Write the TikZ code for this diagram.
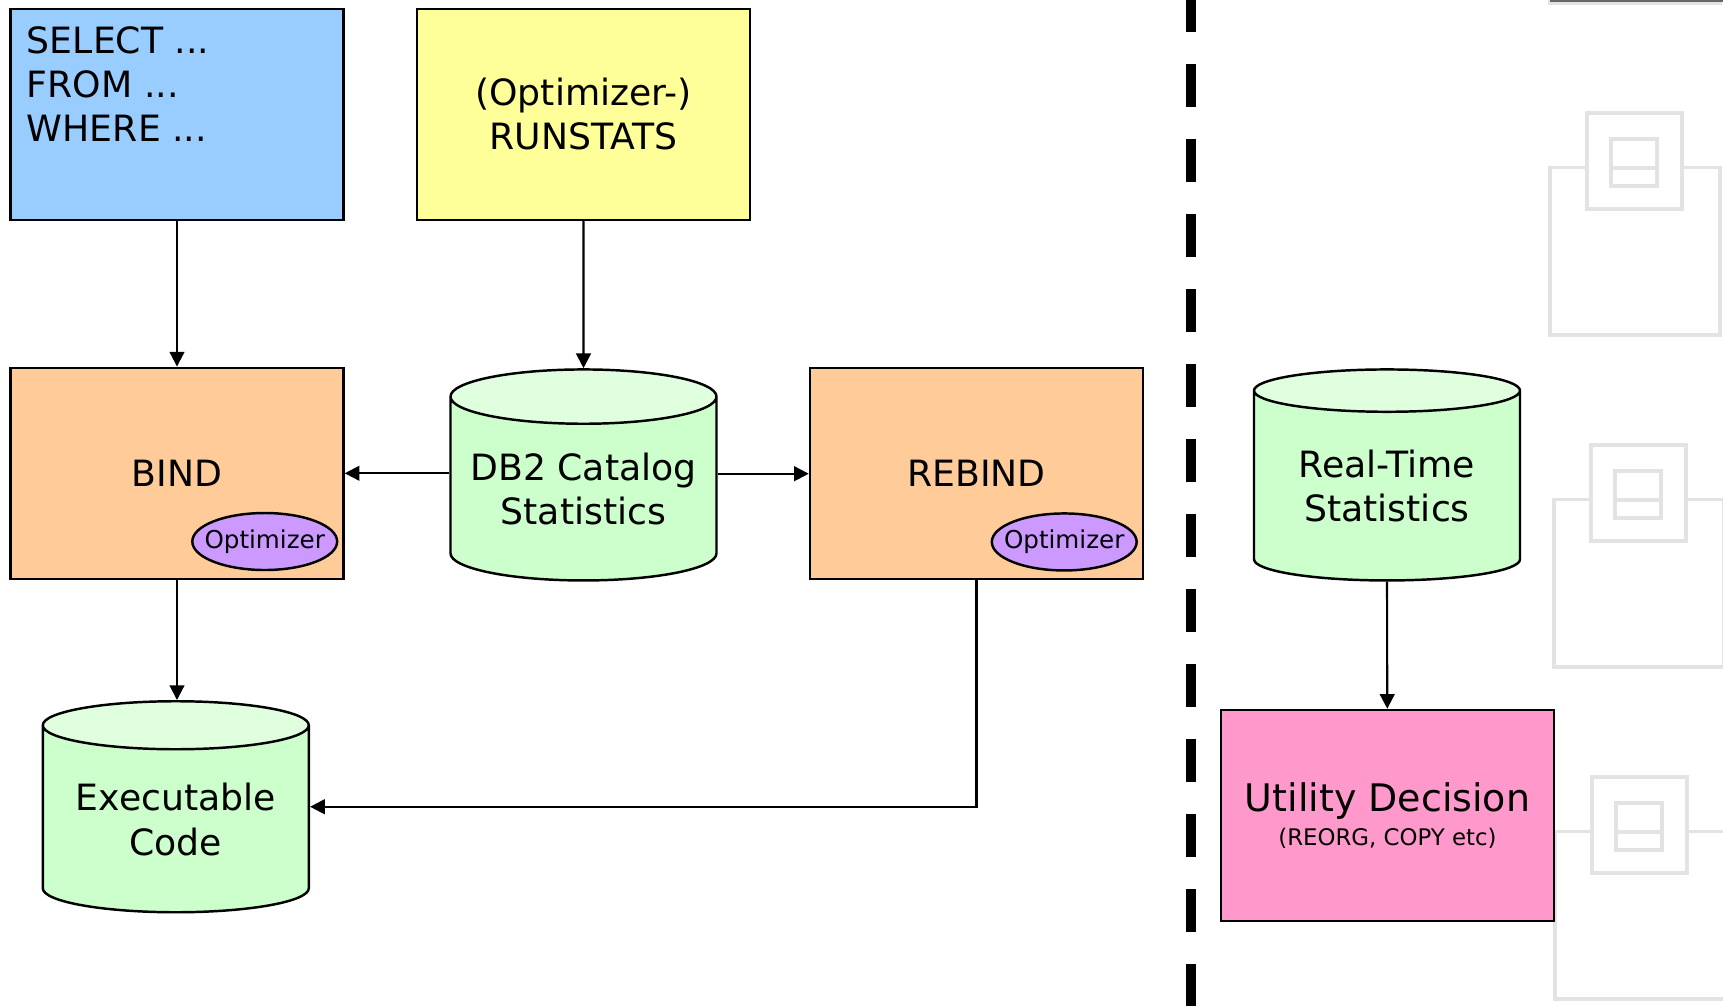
\documentclass[tikz,border=0pt]{standalone}
\usepackage{fontspec}
\setmainfont{DejaVu Sans}
\usetikzlibrary{arrows.meta, positioning, shapes.geometric}

\definecolor{sqlblue}{HTML}{99CCFF}
\definecolor{statyellow}{HTML}{FFFF99}
\definecolor{bindorange}{HTML}{FFCC99}
\definecolor{optpurple}{HTML}{CC99FF}
\definecolor{storegreen}{HTML}{CCFFCC}
\definecolor{storetop}{HTML}{DFFFDF}
\definecolor{utilpink}{HTML}{FF99CC}

\begin{document}
\begin{tikzpicture}
    [
        box/.style={rectangle, draw=black, line width=0.7pt, minimum width=3.33cm, minimum height=2.11cm, inner sep=0pt, align=center, font=\fontsize{10.3}{12.6}\selectfont},
        store/.style={cylinder, shape border rotate=90, aspect=0.24, draw=black, line width=0.7pt, cylinder uses custom fill, cylinder body fill=storegreen, cylinder end fill=storetop, minimum width=2.66cm, minimum height=2.11cm, inner sep=0pt, align=center, anchor=north, font=\fontsize{10.3}{12.6}\selectfont},
        optimizer/.style={ellipse, draw=black, line width=0.7pt, fill=optpurple, minimum width=1.43cm, minimum height=0.57cm, inner xsep=-0.09cm, inner ysep=0pt, font=\fontsize{7}{8.4}\selectfont},
        flow/.style={-{Triangle[length=4.2pt, width=4.2pt]}, line width=0.6pt},
        divider/.style={line width=3.1pt, dash pattern=on 0.43cm off 0.32cm, dash phase=0.11cm},
        watermark/.style={draw=black!11, line width=1pt},
    ]
    \useasboundingbox (0,0) rectangle (17.23,-10.06);

    % faint icons on the right edge
    \begin{scope}
        \clip (0,0) rectangle (17.23,-10.06);
        \foreach \k/\dx in {-1/0, 0/0, 1/0.04, 2/0.05} {
            \begin{scope}[shift={(\dx,-3.32*\k)}, watermark]
                \draw (15.87,-1.675) -- (15.50,-1.675) -- (15.50,-3.35) -- (17.20,-3.35) -- (17.20,-1.675) -- (16.82,-1.675);
                \draw (15.87,-1.13) rectangle (16.82,-2.09);
                \draw (16.11,-1.39) rectangle (16.57,-1.86);
                \draw (16.11,-1.68) -- (16.57,-1.68);
            \end{scope}
        }
        \draw[black!60, line width=0.8pt] (15.50,-0.01) -- (17.23,-0.01);
    \end{scope}

    \node[box, fill=sqlblue] (sql) at (1.77,-1.143) {};
    \node[anchor=north west, align=left, inner sep=0pt, font=\fontsize{10.3}{12.6}\selectfont] (sql text) at ([shift={(0.17,-0.18)}]sql.north west) {SELECT ...\\FROM ...\\WHERE ...};
    \node[box, fill=statyellow] (runstats) [right=0.71cm of sql] {(Optimizer-)\\RUNSTATS};

    \node[box, fill=bindorange] (bind) [below=1.455cm of sql] {BIND};
    \node[store] (catalog) at (5.835,-3.682) {DB2 Catalog\\Statistics};
    \node[box, fill=bindorange] (rebind) at (9.765,-4.737) {REBIND};
    \node[optimizer] (bind opt) at ([shift={(-0.80,0.385)}]bind.south east) {Optimizer};
    \node[optimizer] (rebind opt) at ([shift={(-0.80,0.385)}]rebind.south east) {Optimizer};

    \node[store] (exec) at (1.758,-7.0) {Executable\\Code};

    \node[store] (rts) at (13.87,-3.682) {Real-Time\\Statistics};
    \node[box, fill=utilpink] (utility) at (13.875,-8.155) {\fontsize{10.8}{13}\selectfont Utility Decision\\[-3pt]{\fontsize{6.5}{8}\selectfont (REORG, COPY etc)}};

    \coordinate (divider top) at (11.91,0);
    \coordinate (divider bottom) at (11.91,-10.06);
    \draw[divider] (divider top) -- (divider bottom);

    \draw[flow] (sql) -- (bind);
    \draw[flow] (runstats.south) -- (catalog.north);
    \draw[flow] (catalog.west |- bind) -- (bind);
    \draw[flow] (catalog.east |- rebind) -- (rebind);
    \draw[flow] (bind) -- (bind |- exec.north);
    \draw[flow] (rebind.south) |- (exec.shape center -| exec.east);
    \draw[flow] (rts.south) -- (utility);
\end{tikzpicture}
\end{document}
